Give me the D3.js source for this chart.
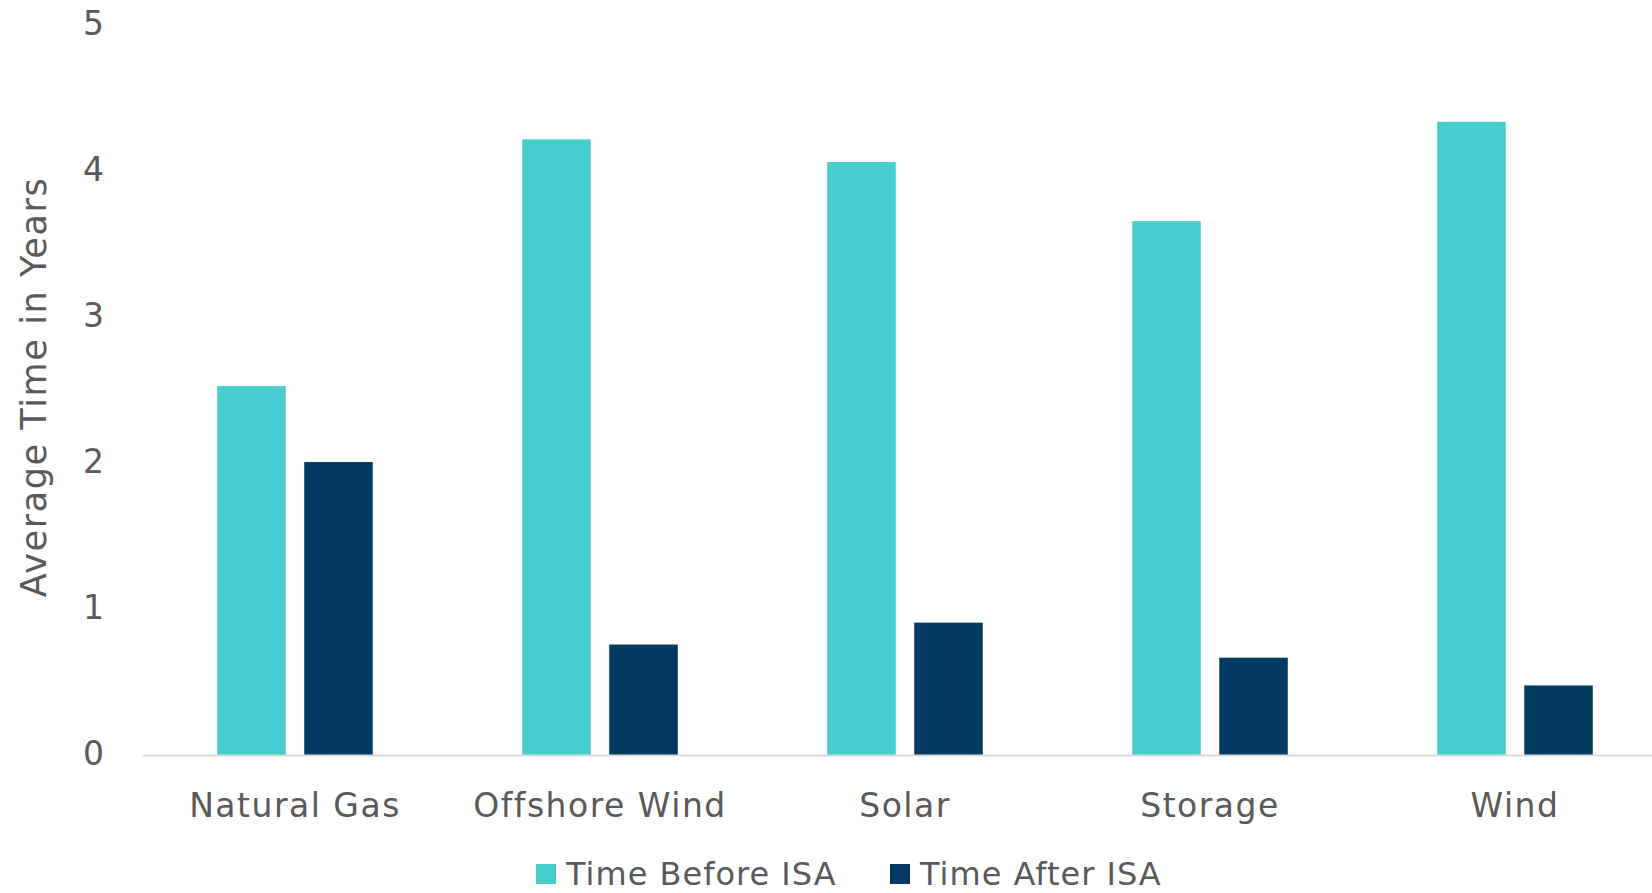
<!DOCTYPE html>
<html>
<head>
<meta charset="utf-8">
<script src="https://cdn.jsdelivr.net/npm/d3@7"></script>
<style>
  html, body { margin: 0; padding: 0; background: #ffffff; }
  svg { display: block; }
  text { font-family: "DejaVu Sans", "Open Sans", sans-serif; fill: #595959; }
</style>
</head>
<body>
<svg id="chart" width="1652" height="893"></svg>
<script>
// Average permitting time by technology, before and after ISA
const categories = ["Natural Gas", "Offshore Wind", "Solar", "Storage", "Wind"];
const seriesNames = ["Time Before ISA", "Time After ISA"];
const timeBefore = [2.53, 4.22, 4.065, 3.66, 4.34];
const timeAfter = [2.01, 0.76, 0.91, 0.67, 0.48];
const yTicks = [0, 1, 2, 3, 4, 5];
const colors = ["#46CECE", "#023A62"];

const svg = d3.select("#chart");
const margin = { left: 142.5, right: -15.5, top: 25.5, bottom: 137.5 };
const W = 1652, H = 893;

const x = d3.scaleBand()
  .domain(categories)
  .range([margin.left, W - margin.right])
  .paddingInner(0.49)
  .paddingOuter(0.245);

const xInner = d3.scaleBand()
  .domain(seriesNames)
  .range([0, x.bandwidth()])
  .paddingInner(0.2126);

const y = d3.scaleLinear()
  .domain([0, 5])
  .range([H - margin.bottom, margin.top]);

const rows = categories.map((c, i) => ({ cat: c, values: [timeBefore[i], timeAfter[i]] }));

// bars
const groups = svg.append("g").selectAll("g")
  .data(rows)
  .join("g")
  .attr("transform", d => `translate(${x(d.cat)},0)`);

groups.selectAll("rect")
  .data(d => d.values.map((v, j) => ({ key: seriesNames[j], v, j })))
  .join("rect")
  .attr("x", d => xInner(d.key))
  .attr("width", xInner.bandwidth())
  .attr("y", d => y(d.v))
  .attr("height", d => y(0) - y(d.v))
  .attr("fill", d => colors[d.j]);

// baseline
svg.append("line")
  .attr("x1", margin.left).attr("x2", W)
  .attr("y1", y(0)).attr("y2", y(0))
  .attr("stroke", "#D9D9D9").attr("stroke-width", 2);

// y axis labels
const yAxis = d3.axisLeft(y).tickValues(yTicks).tickSize(0).tickPadding(0).tickFormat(d3.format("d"));
const yg = svg.append("g")
  .attr("transform", `translate(104,0)`)
  .call(yAxis);
yg.select(".domain").remove();
yg.selectAll("text")
  .style("font-family", "DejaVu Sans, sans-serif")
  .style("font-size", "33px")
  .attr("fill", "#595959")
  .attr("dy", "0.26em");

// x axis labels
const xAxis = d3.axisBottom(x).tickSize(0).tickPadding(0);
const xg = svg.append("g")
  .attr("transform", `translate(0,${y(0)})`)
  .call(xAxis);
xg.select(".domain").remove();
xg.selectAll("text")
  .style("font-family", "DejaVu Sans, sans-serif")
  .style("font-size", "33px")
  .style("letter-spacing", "1.5px")
  .attr("fill", "#595959")
  .attr("y", 50)
  .attr("dy", "0.35em");

// y axis title
svg.append("text")
  .attr("transform", "translate(34,387) rotate(-90)")
  .attr("text-anchor", "middle")
  .attr("dy", "0.35em")
  .style("font-size", "35px")
  .style("letter-spacing", "1.6px")
  .text("Average Time in Years");

// legend
const legendX = [536, 890];
const legend = svg.append("g").selectAll("g")
  .data(seriesNames)
  .join("g")
  .attr("transform", (d, i) => `translate(${legendX[i]},874)`);
legend.append("rect")
  .attr("x", 0).attr("y", -10)
  .attr("width", 20).attr("height", 20)
  .attr("fill", (d, i) => colors[i]);
legend.append("text")
  .attr("x", 30)
  .attr("dy", "0.35em")
  .style("font-size", "32px")
  .style("letter-spacing", "1px")
  .text(d => d);
</script>
</body>
</html>
